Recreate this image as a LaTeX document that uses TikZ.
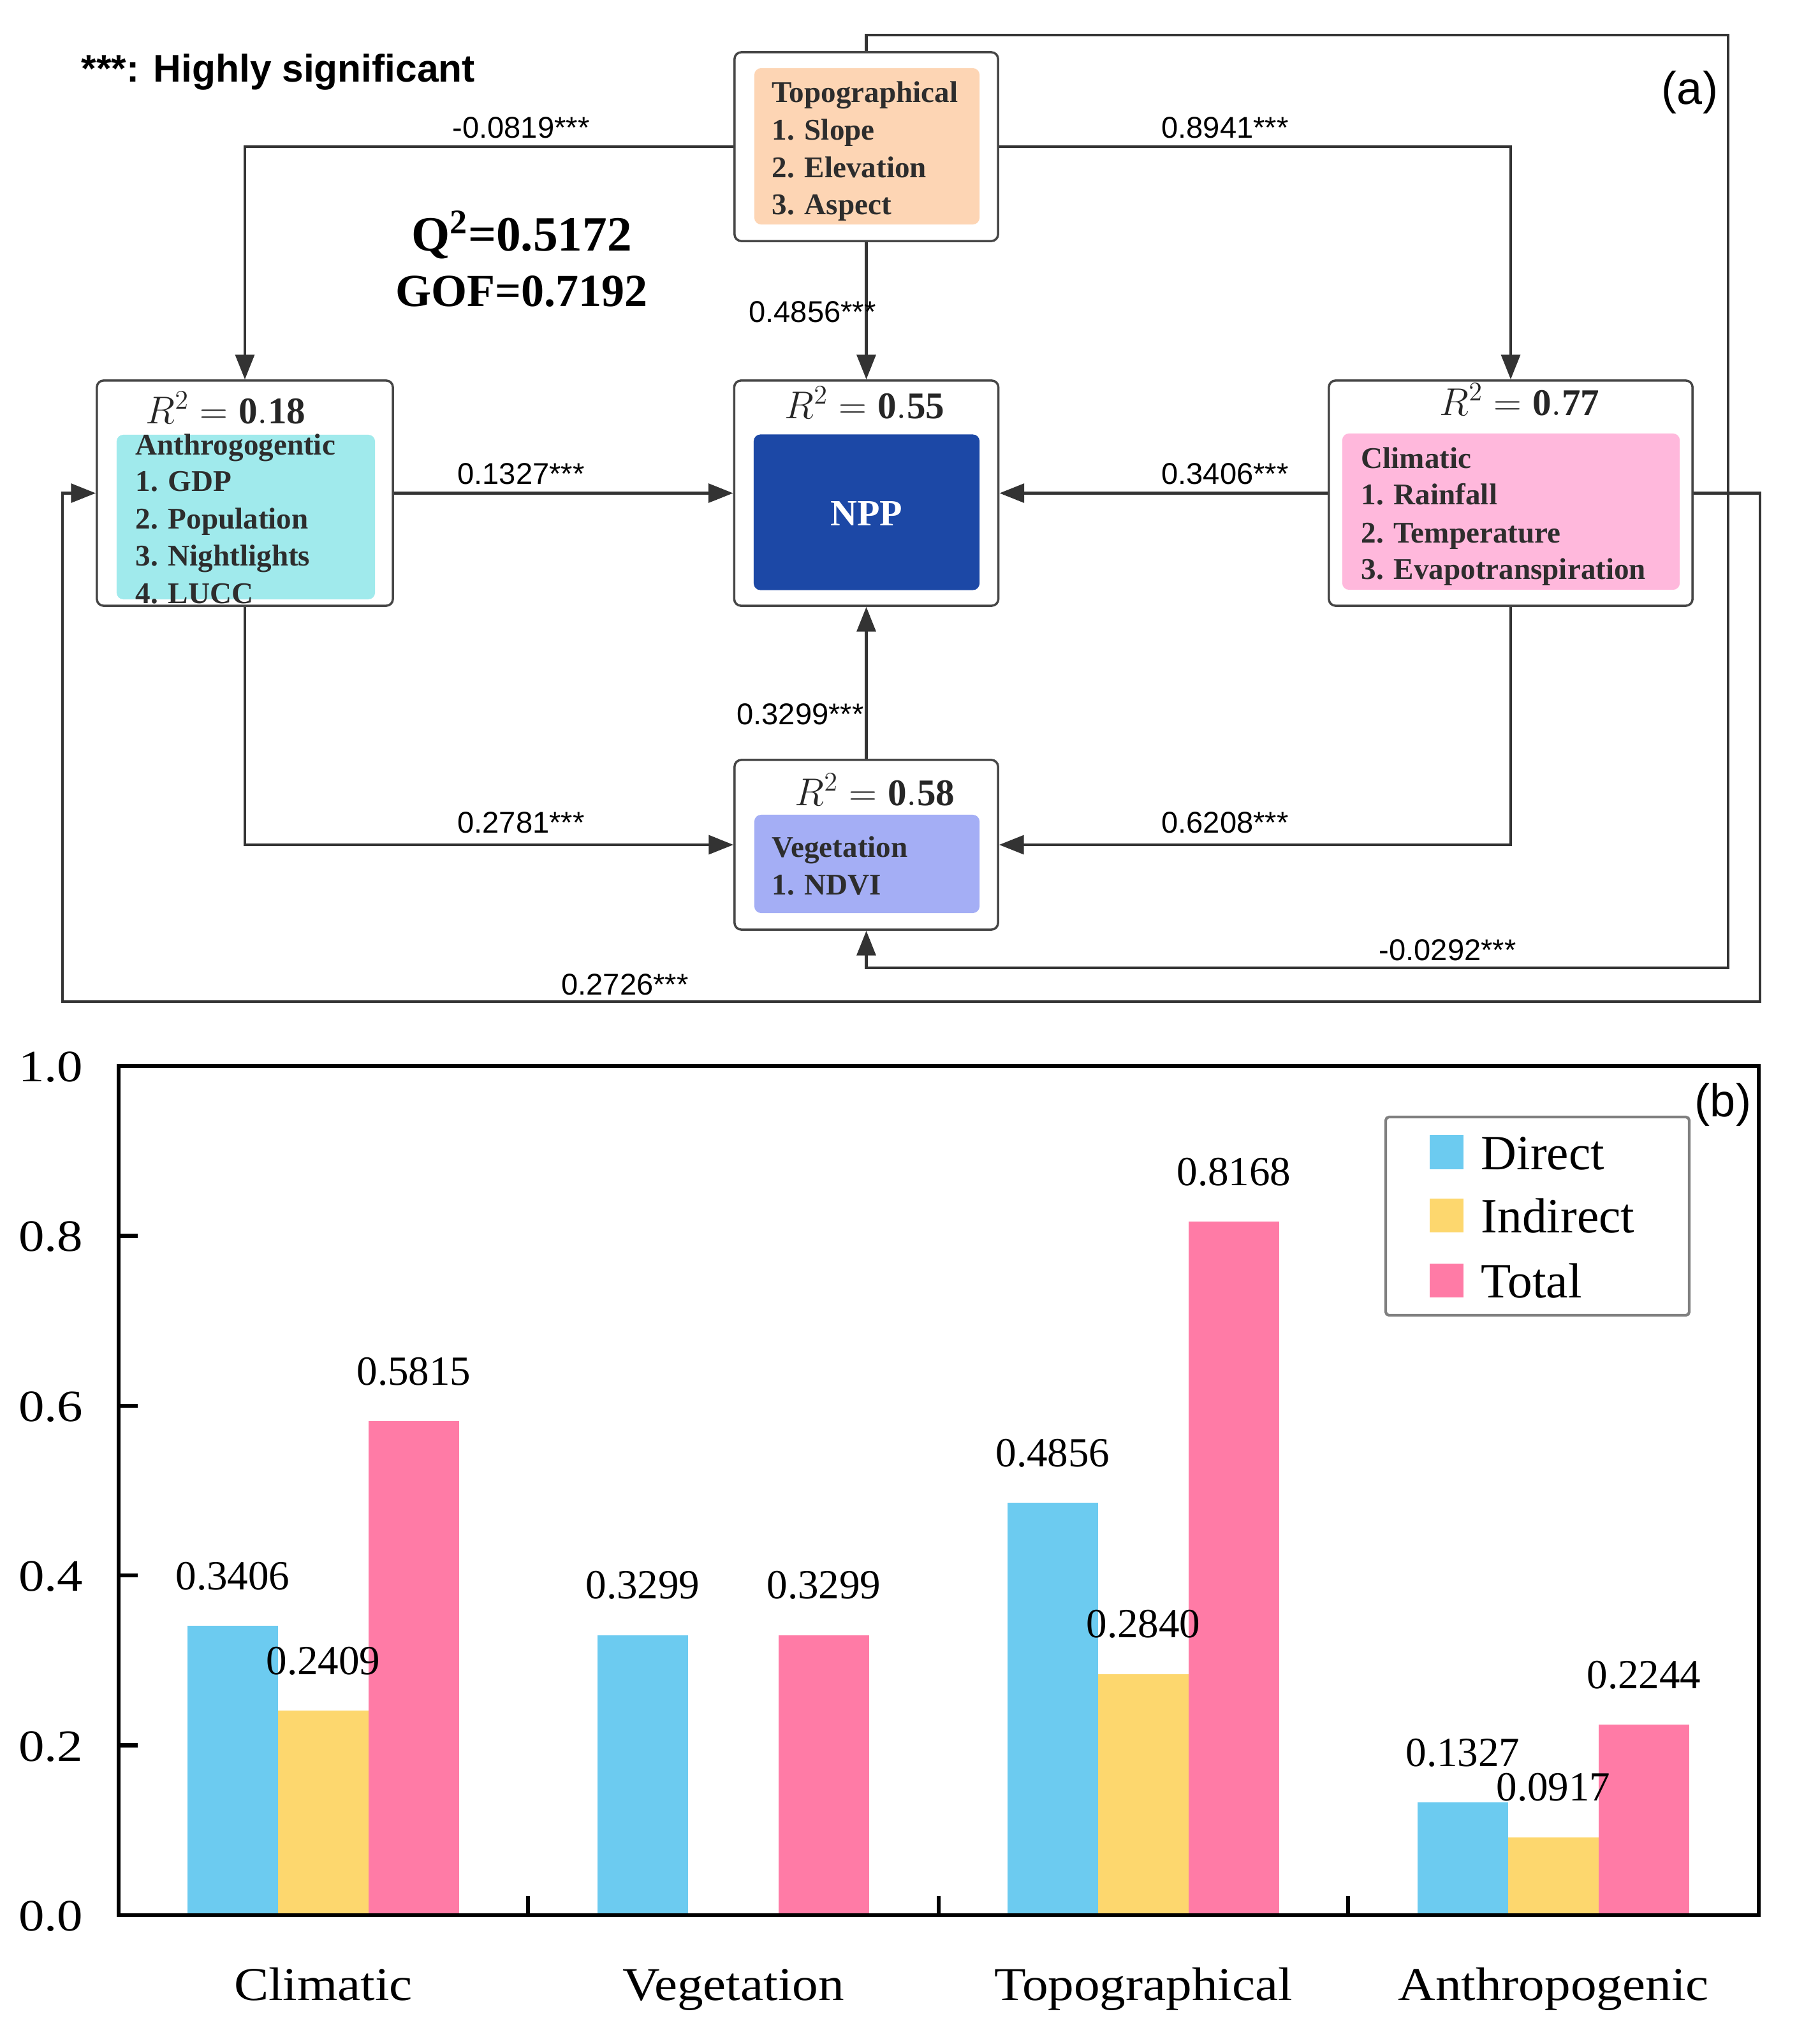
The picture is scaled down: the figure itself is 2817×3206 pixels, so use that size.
\documentclass[tikz,border=0pt]{standalone}
\usepackage{fontspec}
\setmainfont{Liberation Serif}
\newfontfamily\lsans{Liberation Sans}
\usetikzlibrary{arrows.meta}
\definecolor{lineC}{RGB}{51,51,51}
\definecolor{boxC}{RGB}{70,70,70}
\definecolor{txtC}{RGB}{45,45,45}
\definecolor{topoC}{RGB}{253,213,180}
\definecolor{anthC}{RGB}{160,234,236}
\definecolor{nppC}{RGB}{28,72,166}
\definecolor{climC}{RGB}{255,184,220}
\definecolor{vegC}{RGB}{164,174,245}
\definecolor{dirC}{RGB}{108,203,240}
\definecolor{indC}{RGB}{253,215,110}
\definecolor{totC}{RGB}{255,123,166}
\definecolor{legC}{RGB}{128,128,128}
\newcommand\mybar[3]{%
  \fill[#3] ({#1-71},3004) rectangle ({#1+71},{3004-#2*1332});}
\newcommand\mybarlab[3]{%
  \node[vlab] (#3) at (#1,{3004-#2*1332-57}) {#2};}
\begin{document}
\begin{tikzpicture}[x=0.01cm,y=-0.01cm,
  outerbox/.style={draw=boxC, line width=1pt, rounded corners=3pt, fill=white, inner sep=0pt},
  inbox/.style={rounded corners=3pt, inner sep=0pt},
  btxt/.style={anchor=base west, inner sep=0pt, text=txtC, font=\fontsize{13.4}{16}\selectfont\bfseries},
  rtxt/.style={anchor=base, inner sep=0pt, text=black!85, font=\fontsize{16.8}{20}\selectfont},
  lab/.style={inner sep=0pt, text=black, font=\lsans\fontsize{13.4}{16}\selectfont},
  arr/.style={draw=lineC, line width=1.25pt, -{Triangle[length=11pt,width=8.4pt]}},
  ytl/.style={anchor=base east, inner sep=0pt, font=\fontsize{20}{24}\selectfont},
  xtl/.style={anchor=base, inner sep=0pt, font=\fontsize{21}{25}\selectfont},
  vlab/.style={anchor=base, inner sep=0pt, font=\fontsize{18.5}{22}\selectfont},
  legt/.style={anchor=base west, inner sep=0pt, font=\fontsize{22}{26}\selectfont}]
\useasboundingbox (0,0) rectangle (2817,3206);

% ---------- panel (a) ----------
\node[anchor=base west, inner sep=0pt, font=\lsans\fontsize{17.2}{20}\selectfont\bfseries] (sig) at (127,129) {***: Highly significant};
\node[inner sep=0pt, font=\lsans\fontsize{20.5}{24}\selectfont] (pa) at (2650,145) {(a)};
\node[anchor=base, inner sep=0pt, font=\fontsize{22}{26}\selectfont\bfseries] (q2) at (818,393) {Q\textsuperscript{2}=0.5172};
\node[anchor=base, inner sep=0pt, font=\fontsize{20.5}{24}\selectfont\bfseries] (gof) at (818,480) {GOF=0.7192};

% Topographical
\node[outerbox, minimum width=4.13cm, minimum height=2.96cm] (topo) at (1358.5,230) {};
\node[inbox, fill=topoC, minimum width=3.53cm, minimum height=2.45cm] (topoin) at (1359.5,229.5) {};
\node[btxt] (t1) at (1210,161) {Topographical};
\node[btxt] (t2) at (1210,220) {1. Slope};
\node[btxt] (t3) at (1210,278) {2. Elevation};
\node[btxt] (t4) at (1210,337) {3. Aspect};

% Anthropogenic
\node[outerbox, minimum width=4.64cm, minimum height=3.53cm] (anth) at (384,773.5) {};
\node[inbox, fill=anthC, minimum width=4.05cm, minimum height=2.58cm] (anthin) at (385.5,811) {};
\node[rtxt] (ra) at (354,664) {$R^2=\mathbf{0.18}$};
\node[btxt] (a1) at (212,713) {Anthrogogentic};
\node[btxt] (a2) at (212,770) {1. GDP};
\node[btxt] (a3) at (212,829) {2. Population};
\node[btxt] (a4) at (212,887) {3. Nightlights};
\node[btxt] (a5) at (212,946) {4. LUCC};

% NPP
\node[outerbox, minimum width=4.14cm, minimum height=3.53cm] (npp) at (1358.5,773.5) {};
\node[inbox, fill=nppC, minimum width=3.54cm, minimum height=2.44cm] (nppin) at (1359,803.5) {};
\node[rtxt] (rn) at (1356,656) {$R^2=\mathbf{0.55}$};
\node[anchor=base, inner sep=0pt, text=white, font=\fontsize{16.5}{20}\selectfont\bfseries] (nppt) at (1359,824) {NPP};

% Climatic
\node[outerbox, minimum width=5.70cm, minimum height=3.53cm] (clim) at (2369,773.5) {};
\node[inbox, fill=climC, minimum width=5.29cm, minimum height=2.45cm] (climin) at (2369.5,802.5) {};
\node[rtxt] (rc) at (2383,651) {$R^2=\mathbf{0.77}$};
\node[btxt] (c1) at (2134,734) {Climatic};
\node[btxt] (c2) at (2134,791) {1. Rainfall};
\node[btxt] (c3) at (2134,851) {2. Temperature};
\node[btxt] (c4) at (2134,908) {3. Evapotranspiration};

% Vegetation
\node[outerbox, minimum width=4.13cm, minimum height=2.66cm] (veg) at (1358.5,1325) {};
\node[inbox, fill=vegC, minimum width=3.53cm, minimum height=1.54cm] (vegin) at (1359.5,1355) {};
\node[rtxt] (rv) at (1372,1263) {$R^2=\mathbf{0.58}$};
\node[btxt] (v1) at (1210,1344) {Vegetation};
\node[btxt] (v2) at (1210,1403) {1. NDVI};

% routing points
\coordinate (fa1) at (2710,55);
\coordinate (fa2) at (2710,1518);
\coordinate (fb1) at (2760,1571);
\coordinate (fb2) at (98,1571);

% connectors
\draw[arr] (topo.west) -| (anth.north);
\draw[arr] (topo.east) -| (clim.north);
\draw[arr] (topo.south) -- (npp.north);
\draw[arr] (anth.east) -- (npp.west);
\draw[arr] (clim.west) -- (npp.east);
\draw[arr] (veg.north) -- (npp.south);
\draw[arr] (anth.south) |- (veg.west);
\draw[arr] (clim.south) |- (veg.east);
\draw[arr] (topo.north) |- (fa1) -- (fa2) -| (veg.south);
\draw[arr] (clim.east) -| (fb1) -- (fb2) |- (anth.west);

% connector labels
\node[lab] (l1) at (817,200) {-0.0819***};
\node[lab] (l2) at (1921,200) {0.8941***};
\node[lab] (l3) at (1274,489) {0.4856***};
\node[lab] (l4) at (817,743) {0.1327***};
\node[lab] (l5) at (1921,743) {0.3406***};
\node[lab] (l6) at (1255,1120) {0.3299***};
\node[lab] (l7) at (817,1290) {0.2781***};
\node[lab] (l8) at (1921,1290) {0.6208***};
\node[lab] (l9) at (2270,1490) {-0.0292***};
\node[lab] (l10) at (980,1544) {0.2726***};

% ---------- panel (b) ----------
\mybar{365}{0.3406}{dirC}
\mybar{507}{0.2409}{indC}
\mybar{649}{0.5815}{totC}
\mybar{1008}{0.3299}{dirC}
\mybar{1292}{0.3299}{totC}
\mybar{1651}{0.4856}{dirC}
\mybar{1793}{0.2840}{indC}
\mybar{1935}{0.8168}{totC}
\mybar{2294}{0.1327}{dirC}
\mybar{2436}{0.0917}{indC}
\mybar{2578}{0.2244}{totC}

\mybarlab{365}{0.3406}{b1}
\mybarlab{507}{0.2409}{b2}
\mybarlab{649}{0.5815}{b3}
\mybarlab{1008}{0.3299}{b4}
\mybarlab{1292}{0.3299}{b5}
\mybarlab{1651}{0.4856}{b6}
\mybarlab{1793}{0.2840}{b7}
\mybarlab{1935}{0.8168}{b8}
\mybarlab{2294}{0.1327}{b9}
\mybarlab{2436}{0.0917}{b10}
\mybarlab{2578}{0.2244}{b11}

\draw[line width=1.8pt] (186,1672) rectangle (2758,3004);
\foreach \v in {0.2,0.4,0.6,0.8}
  \draw[line width=1.8pt] (186,{3004-\v*1332}) -- (216,{3004-\v*1332});
\foreach \xx in {828,1472,2114}
  \draw[line width=1.8pt] (\xx,3004) -- (\xx,2974);

\node[ytl] (y0) at (131,3028) {\scalebox{1.15}[1]{0.0}};
\node[ytl] (y2) at (131,2762) {\scalebox{1.15}[1]{0.2}};
\node[ytl] (y4) at (131,2495) {\scalebox{1.15}[1]{0.4}};
\node[ytl] (y6) at (131,2229) {\scalebox{1.15}[1]{0.6}};
\node[ytl] (y8) at (131,1962) {\scalebox{1.15}[1]{0.8}};
\node[ytl] (y10) at (131,1696) {\scalebox{1.15}[1]{1.0}};

\node[xtl] (x1) at (507,3137) {\scalebox{1.1}[1]{Climatic}};
\node[xtl] (x2) at (1150,3137) {\scalebox{1.1}[1]{Vegetation}};
\node[xtl] (x3) at (1793,3137) {\scalebox{1.1}[1]{Topographical}};
\node[xtl] (x4) at (2436,3137) {\scalebox{1.1}[1]{Anthropogenic}};

\node[inner sep=0pt, font=\lsans\fontsize{20.5}{24}\selectfont] (pb) at (2702,1733) {(b)};

% legend
\draw[draw=legC, line width=1.2pt, rounded corners=1.5pt] (2173,1752) rectangle (2649,2063);
\fill[dirC] (2242,1780) rectangle (2295,1834);
\fill[indC] (2242,1880) rectangle (2295,1933);
\fill[totC] (2242,1982) rectangle (2295,2035);
\node[legt] (g1) at (2322,1834) {Direct};
\node[legt] (g2) at (2322,1933) {Indirect};
\node[legt] (g3) at (2322,2035) {Total};
\end{tikzpicture}
\end{document}
